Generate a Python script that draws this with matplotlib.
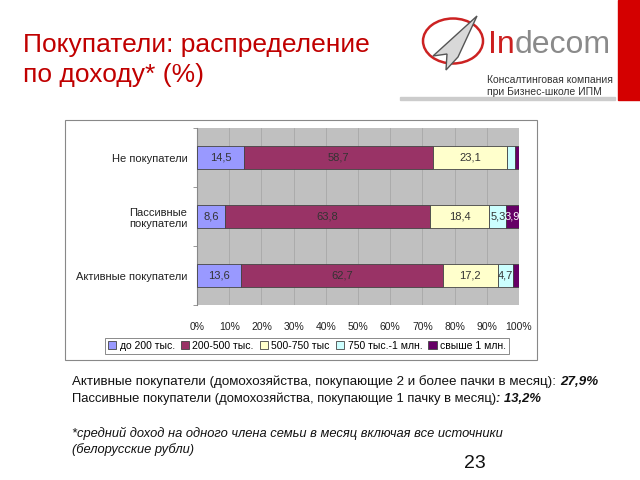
import matplotlib
matplotlib.use("Agg")
import matplotlib.pyplot as plt
from matplotlib.patches import Rectangle, Circle, Polygon
import numpy as np

plt.rcParams["font.family"] = ["Liberation Sans", "DejaVu Sans"]

# --- data ---
categories = ["Активные покупатели", "Пассивные\nпокупатели", "Не покупатели"]
series_names = ["до 200 тыс.", "200-500 тыс.", "500-750 тыс", "750 тыс.-1 млн.", "свыше 1 млн."]
up_to_200 = [13.6, 8.6, 14.5]
from_200_500 = [62.7, 63.8, 58.7]
from_500_750 = [17.2, 18.4, 23.1]
from_750_1m = [4.7, 5.3, 2.4]
over_1m = [1.8, 3.9, 1.3]
# which segments carry a printed value
show_label = [
    [True, True, True],
    [True, True, True],
    [True, True, True],
    [True, True, False],
    [False, True, False],
]
colors = ["#9999ff", "#993366", "#ffffcc", "#ccffff", "#660066"]
label_colors = ["#333333", "#333333", "#333333", "#333333", "#ffffff"]

W, H = 640, 480


def fx(x):
    return x / W


def fy(y):
    return 1 - y / H


fig = plt.figure(figsize=(6.4, 4.8), dpi=100)
fig.patch.set_facecolor("white")

# red band at right
fig.patches.append(Rectangle((fx(618), fy(100)), fx(22), 100 / H,
                             transform=fig.transFigure, color="#d40000", zorder=0))

# title
fig.text(fx(23), fy(60), "Покупатели: распределение\nпо доходу* (%)", color="#c00000",
         fontsize=19, va="center", ha="left", linespacing=1.3)

# logo
fig.patches.append(Circle((fx(453), fy(41)), 30 / W, transform=fig.transFigure,
                          fill=False, edgecolor="#cc2222", lw=1.8))
fig.patches.append(Polygon([(fx(477), fy(16)), (fx(433), fy(56)), (fx(447), fy(54)),
                            (fx(446), fy(70)), (fx(458), fy(57))],
                           closed=True, transform=fig.transFigure,
                           facecolor="#d8d8d8", edgecolor="#555555", lw=1))
fig.patches.append(Rectangle((fx(400), fy(100)), fx(215), 3 / H,
                             transform=fig.transFigure, color="#cccccc"))

ax = fig.add_axes([fx(197), fy(305), (519 - 197) / W, (305 - 128) / H])
ax.set_facecolor("#c0c0c0")

y = np.arange(len(categories))
left = np.zeros(len(categories))
all_series = [up_to_200, from_200_500, from_500_750, from_750_1m, over_1m]
for i, vals in enumerate(all_series):
    vals = np.array(vals)
    ax.barh(y, vals, left=left, height=0.4, color=colors[i], edgecolor="#444444",
            lw=0.6, label=series_names[i], zorder=3)
    for j, v in enumerate(vals):
        if show_label[i][j]:
            ax.text(left[j] + v / 2, y[j], f"{v:.1f}".replace(".", ","),
                    ha="center", va="center", fontsize=8, color=label_colors[i], zorder=4)
    left += vals

ax.set_xlim(0, 100)
ax.set_ylim(-0.5, 2.5)
ax.set_xticks(np.arange(0, 101, 10))
ax.set_xticklabels([f"{t}%" for t in range(0, 101, 10)], fontsize=7.5, color="#222222")
ax.tick_params(axis="x", length=0, pad=12)
ax.set_yticks(y)
ax.set_yticklabels(categories, fontsize=8, color="#222222", multialignment="center")
ax.tick_params(axis="y", length=0, pad=7)
ax.set_yticks([-0.5, 0.5, 1.5, 2.5], minor=True)
ax.tick_params(axis="y", which="minor", length=3, color="#888888")
ax.grid(axis="x", color="#a8a8a8", lw=0.6, zorder=1)
for s in ["top", "right", "bottom"]:
    ax.spines[s].set_visible(False)
ax.spines["left"].set_color("#888888")
ax.spines["left"].set_linewidth(0.8)

# chart frame
fig.patches.append(Rectangle((fx(65), fy(360)), (537 - 65) / W, (360 - 120) / H,
                             transform=fig.transFigure, fill=False,
                             edgecolor="#888888", lw=0.8))

leg = fig.legend(loc="center", bbox_to_anchor=(fx(307), fy(346)), ncol=5, fontsize=7.5,
                 frameon=True, fancybox=False, edgecolor="#555555",
                 handlelength=0.8, handleheight=0.8, handletextpad=0.3,
                 columnspacing=0.6, borderpad=0.3, borderaxespad=0)
leg.get_frame().set_linewidth(0.6)

fig.canvas.draw()
renderer = fig.canvas.get_renderer()


def chain(x, ypix, parts, size, **kw):
    # place text pieces one after another on the same line
    xf = fx(x)
    for txt, style, weight, color in parts:
        t = fig.text(xf, fy(ypix), txt, fontsize=size, style=style, weight=weight,
                     va="center", ha="left", color=color, **kw)
        bb = t.get_window_extent(renderer=renderer)
        xf += bb.width / W


# logo text
chain(488, 45, [("In", "normal", "normal", "#cc1f1f"),
                ("decom", "normal", "normal", "#8a8a8a")], 23)
fig.text(fx(487), fy(86), "Консалтинговая компания\nпри Бизнес-школе ИПМ", fontsize=7.5,
         color="#333333", va="center", ha="left", linespacing=1.2)

# notes below the chart
chain(72, 382, [("Активные покупатели (домохозяйства, покупающие 2 и более пачки в месяц): ",
                 "normal", "normal", "#111111"),
                ("27,9%", "italic", "bold", "#111111")], 9.6)
chain(72, 399, [("Пассивные покупатели (домохозяйства, покупающие 1 пачку в месяц)",
                 "normal", "normal", "#111111"),
                (": 13,2%", "italic", "bold", "#111111")], 9.4)
fig.text(fx(72), fy(433), "*средний доход на одного члена семьи в месяц включая все источники",
         fontsize=9.3, style="italic", va="center", ha="left", color="#111111")
fig.text(fx(72), fy(450), "(белорусские рубли)", fontsize=9.3, style="italic",
         va="center", ha="left", color="#111111")
fig.text(fx(475), fy(463), "23", fontsize=14, va="center", ha="center", color="#111111")

fig.savefig("out.png", dpi=100)
